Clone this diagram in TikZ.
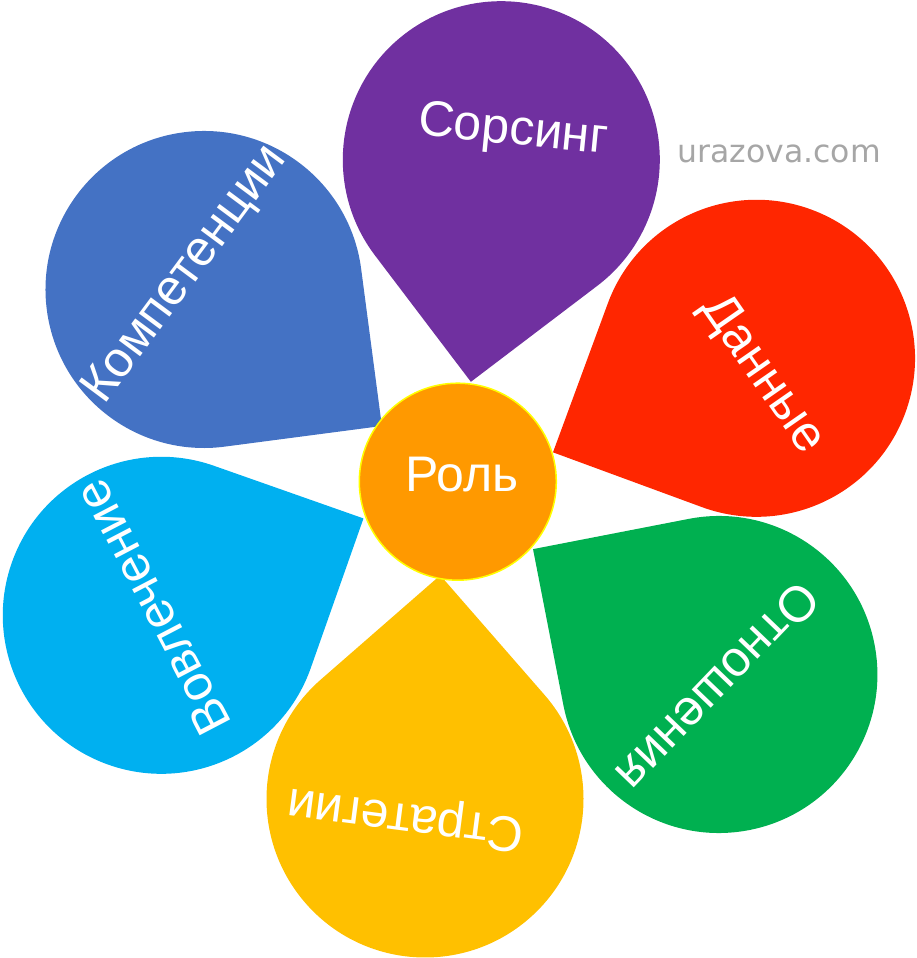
\documentclass[tikz,border=0pt]{standalone}
\usepackage{fontspec}
\setmainfont{Liberation Sans}
\newfontfamily\wmfont{DejaVu Sans}
\usetikzlibrary{calc}
\definecolor{cPurple}{HTML}{7030A0}
\definecolor{cRed}{HTML}{FF2600}
\definecolor{cGreen}{HTML}{00B050}
\definecolor{cYellow}{HTML}{FFC000}
\definecolor{cLightBlue}{HTML}{00B0F0}
\definecolor{cBlue}{HTML}{4472C4}
\definecolor{cOrange}{HTML}{FF9900}
\definecolor{cBorder}{HTML}{FFFF00}
\definecolor{cGray}{HTML}{A6A6A6}
\tikzset{
  lbl/.style={text=white, inner sep=0pt, font=\fontsize{50}{60}\selectfont},
  wmark/.style={text=cGray, inner sep=0pt, font=\wmfont\fontsize{31.5}{38}\selectfont},
  hub/.style={circle, fill=cOrange, draw=cBorder, line width=1.5pt, minimum size=197pt, inner sep=0pt}
}
% petal: name, cx, cy, tip angle, colour
\newcommand\petalshape[5]{%
  \coordinate (#1) at (#2,#3);
  \fill[#5] ($(#1)+(#4:224.2)$) -- ($(#1)+(#4+45:158.5)$)
    arc[start angle=#4+45, end angle=#4+315, radius=158.5] -- cycle;
}
\begin{document}
\begin{tikzpicture}[x=1pt,y=1pt]
\useasboundingbox (0,0) rectangle (916,958);
\petalshape{pSors}{501.3}{798.3}{262.2}{cPurple}
\petalshape{pData}{756.5}{599.7}{204.8}{cRed}
\petalshape{pRel}{718.9}{283.5}{146.0}{cGreen}
\petalshape{pStrat}{425}{159}{86.1}{cYellow}
\petalshape{pEng}{161.3}{342.7}{25.6}{cLightBlue}
\petalshape{pComp}{204}{668.5}{322.5}{cBlue}
\node[hub] (role) at (457.8,476.3) {};
\node[lbl] (troleLbl) at (462,483) {Роль};
\node[lbl, rotate=-5.6] (tSors) at (513,826) {Сорсинг};
\node[lbl, rotate=-55.2] (tData) at (762,583) {Данные};
\node[lbl, rotate=226.2] (tRel) at (718.3,270.5) {Отношения};
\node[lbl, rotate=172.6] (tStrat) at (405.8,141.5) {Стратегии};
\node[lbl, rotate=117.6] (tEng) at (152.5,350.5) {Вовлечение};
\node[lbl, rotate=53.4] (tComp) at (186,683) {Компетенции};
\node[wmark] (wm) at (779,804.3) {urazova.com};
\end{tikzpicture}
\end{document}
